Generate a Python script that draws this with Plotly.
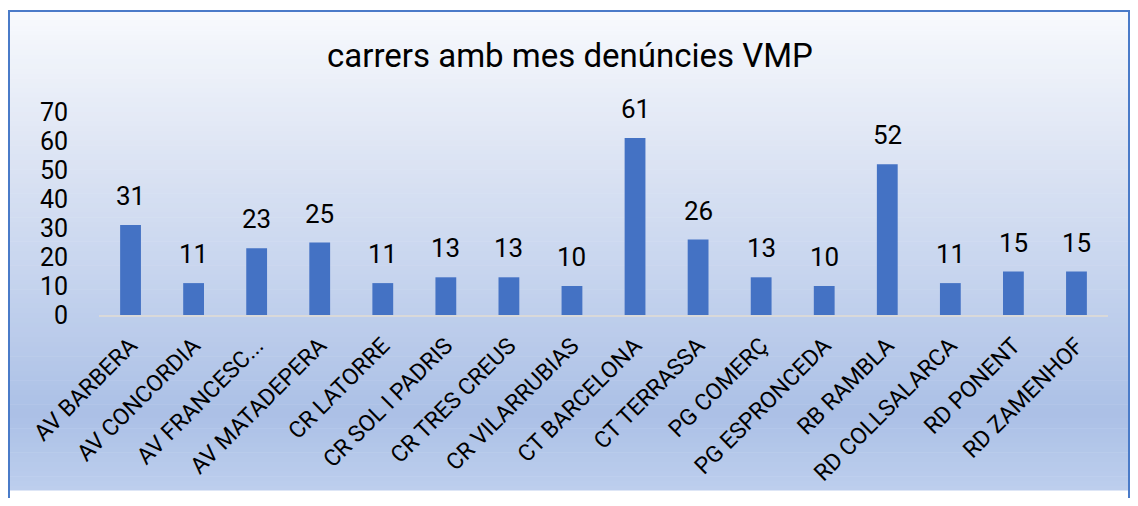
import plotly.graph_objects as go

categories = ["AV BARBERA", "AV CONCORDIA", "AV FRANCESC...", "AV MATADEPERA", "CR LATORRE",
              "CR SOL I PADRIS", "CR TRES CREUS", "CR VILARRUBIAS", "CT BARCELONA", "CT TERRASSA",
              "PG COMERÇ", "PG ESPRONCEDA", "RB RAMBLA", "RD COLLSALARCA", "RD PONENT", "RD ZAMENHOF"]
values = [31, 11, 23, 25, 11, 13, 13, 10, 61, 26, 13, 10, 52, 11, 15, 15]
y_ticks = [0, 10, 20, 30, 40, 50, 60, 70]
title_text = "carrers amb mes denúncies VMP"

# page body has an 8px margin; keep the figure inside the window (no scrollbars)
OFF = 8
W, H = 1138 - 2 * OFF, 506 - 2 * OFF
ML, MT = 99 - OFF, 112 - OFF
MR = W - (1108 - OFF)
MB = H - (319 - OFF)
PW, PH = W - ML - MR, H - MT - MB
FONT = "Roboto"


def px(x):
    return (x - OFF - ML) / PW


def py(y):
    return (H - MB - (y - OFF)) / PH


def hex2rgb(h):
    h = h.lstrip("#")
    return [int(h[i:i + 2], 16) for i in (0, 2, 4)]


stops = [(8, "#F8FAFD"), (150, "#DEE5F4"), (280, "#C6D4EE"), (420, "#ABC0E6"), (506, "#BFD0EE")]


def color_at(y):
    for (y0, c0), (y1, c1) in zip(stops[:-1], stops[1:]):
        if y0 <= y <= y1:
            t = (y - y0) / (y1 - y0)
            a, b = hex2rgb(c0), hex2rgb(c1)
            return "rgb(%d,%d,%d)" % tuple(round(a[i] + (b[i] - a[i]) * t) for i in range(3))
    return stops[-1][1]


x_left, x_right = 9, 1129
shapes = []
N = 100
y_top, y_bot = 9, 498
step = (y_bot - y_top) / N
for i in range(N):
    ya = y_top + i * step
    yb = min(ya + step + 0.6, y_bot)
    shapes.append(dict(type="rect", xref="paper", yref="paper", layer="below",
                       x0=px(x_left), x1=px(x_right), y0=py(yb), y1=py(ya),
                       fillcolor=color_at(ya + step / 2), line=dict(width=0)))
shapes.append(dict(type="rect", xref="paper", yref="paper", layer="above",
                   x0=px(x_left), x1=px(x_right), y0=py(y_bot + 10), y1=py(y_top),
                   fillcolor="rgba(0,0,0,0)", line=dict(color="#4A7BC8", width=2)))

fig = go.Figure(go.Bar(x=categories, y=values, marker=dict(color="#4472C4", line=dict(width=0)),
                       cliponaxis=False, hoverinfo="x+y"))

annotations = [dict(x=c, y=v, text=str(v), showarrow=False, yanchor="bottom", yshift=12,
                    font=dict(family=FONT, size=26, color="#000000"))
               for c, v in zip(categories, values)]
annotations.append(dict(xref="paper", yref="paper", x=px(570), y=py(54), text=title_text,
                        showarrow=False, xanchor="center", yanchor="middle",
                        font=dict(family=FONT, size=33, color="#000000")))

fig.update_layout(
    width=W, height=H,
    margin=dict(l=ML, r=MR, t=MT, b=MB, pad=0),
    paper_bgcolor="white", plot_bgcolor="rgba(0,0,0,0)",
    shapes=shapes, annotations=annotations,
    bargap=0.67, showlegend=False,
    xaxis=dict(showgrid=False, showline=True, linecolor="#D9D9D9", linewidth=2,
               tickangle=-45, tickfont=dict(family=FONT, size=23, color="#000000"),
               ticks="", zeroline=False, ticklabelstandoff=6),
    yaxis=dict(range=[0, 70], tickvals=y_ticks, showgrid=False, showline=False, zeroline=False,
               ticks="", tickfont=dict(family=FONT, size=25, color="#000000"),
               ticklabelstandoff=30),
)

fig.write_html("out.html")
